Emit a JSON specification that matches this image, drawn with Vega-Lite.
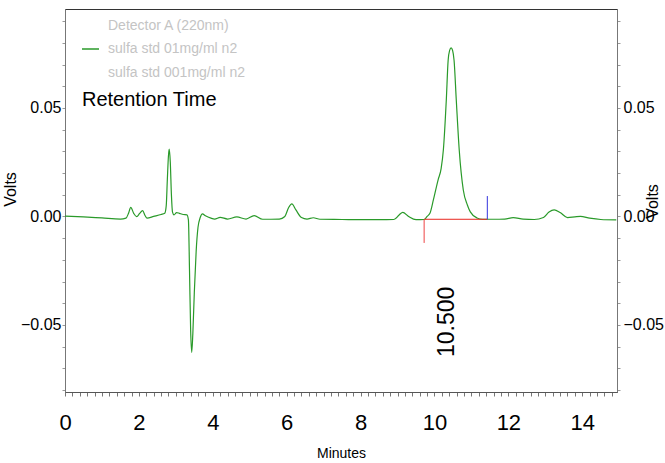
{
  "$schema": "https://vega.github.io/schema/vega-lite/v6.json",
  "autosize": {"type": "none"},
  "padding": {"left": 65, "top": 9, "right": 48, "bottom": 71},
  "width": 552,
  "height": 383,
  "background": "white",
  "config": {
    "view": {"stroke": "#333", "strokeWidth": 1},
    "font": "Liberation Sans",
    "axis": {"labelOverlap": false, "labelBound": false, "labelFlush": false, "grid": false},
    "axisX": {"labelOverlap": false},
    "axisY": {"labelOverlap": false}
  },
  "resolve": {"axis": {"x": "independent", "y": "independent"}},
  "datasets": {
    "trace": [
      {"t": 0, "v": 0.0002}, {"t": 0.5, "v": -0.0002}, {"t": 1.0, "v": -0.0007}, {"t": 1.5, "v": -0.0012},
      {"t": 1.65, "v": -0.0008}, {"t": 1.72, "v": 0.0015}, {"t": 1.78, "v": 0.0042}, {"t": 1.86, "v": 0.0014},
      {"t": 1.94, "v": -0.0001}, {"t": 2.02, "v": 0.0014}, {"t": 2.1, "v": 0.0027}, {"t": 2.17, "v": 0.0003},
      {"t": 2.22, "v": -0.0008}, {"t": 2.4, "v": 0}, {"t": 2.6, "v": 0.0009}, {"t": 2.7, "v": 0.0015},
      {"t": 2.74, "v": 0.005}, {"t": 2.77, "v": 0.017}, {"t": 2.8, "v": 0.028}, {"t": 2.82, "v": 0.031},
      {"t": 2.85, "v": 0.025}, {"t": 2.88, "v": 0.01}, {"t": 2.91, "v": 0.002}, {"t": 2.95, "v": 0.0007},
      {"t": 3.02, "v": 0.0018}, {"t": 3.1, "v": 0.0014}, {"t": 3.2, "v": 0.0009}, {"t": 3.3, "v": 0.0007},
      {"t": 3.34, "v": -0.0016}, {"t": 3.37, "v": -0.025}, {"t": 3.4, "v": -0.052}, {"t": 3.43, "v": -0.0627},
      {"t": 3.46, "v": -0.054}, {"t": 3.5, "v": -0.035}, {"t": 3.55, "v": -0.016}, {"t": 3.6, "v": -0.005},
      {"t": 3.66, "v": -0.0005}, {"t": 3.72, "v": 0.0012}, {"t": 3.8, "v": 0.0003}, {"t": 3.95, "v": -0.0008},
      {"t": 4.05, "v": -0.0012}, {"t": 4.2, "v": -0.0004}, {"t": 4.4, "v": -0.0012}, {"t": 4.65, "v": -0.0002},
      {"t": 4.9, "v": -0.0012}, {"t": 5.12, "v": 0.0004}, {"t": 5.35, "v": -0.0013}, {"t": 5.8, "v": -0.0012},
      {"t": 5.95, "v": 0.0}, {"t": 6.05, "v": 0.004}, {"t": 6.14, "v": 0.0058}, {"t": 6.25, "v": 0.003},
      {"t": 6.4, "v": -0.0005}, {"t": 6.55, "v": -0.0012}, {"t": 6.72, "v": -0.0006}, {"t": 6.9, "v": -0.0013},
      {"t": 7.5, "v": -0.0014}, {"t": 8.0, "v": -0.0015}, {"t": 8.5, "v": -0.0015}, {"t": 8.9, "v": -0.0014},
      {"t": 9.05, "v": 0.0008}, {"t": 9.14, "v": 0.0019}, {"t": 9.3, "v": 0.0}, {"t": 9.5, "v": -0.0015},
      {"t": 9.72, "v": -0.0014}, {"t": 9.8, "v": 0.0}, {"t": 9.88, "v": 0.0016}, {"t": 9.97, "v": 0.0076},
      {"t": 10.1, "v": 0.017}, {"t": 10.18, "v": 0.022}, {"t": 10.24, "v": 0.0306}, {"t": 10.32, "v": 0.0537},
      {"t": 10.37, "v": 0.072}, {"t": 10.41, "v": 0.0765}, {"t": 10.45, "v": 0.0777}, {"t": 10.49, "v": 0.0765},
      {"t": 10.53, "v": 0.072}, {"t": 10.59, "v": 0.0537}, {"t": 10.67, "v": 0.0306}, {"t": 10.78, "v": 0.0122},
      {"t": 10.89, "v": 0.0053}, {"t": 10.97, "v": 0.0021}, {"t": 11.15, "v": -0.0007}, {"t": 11.3, "v": -0.0013},
      {"t": 11.6, "v": -0.0013}, {"t": 11.9, "v": -0.0012}, {"t": 12.13, "v": -0.0005}, {"t": 12.4, "v": -0.0012},
      {"t": 12.7, "v": -0.0014}, {"t": 12.95, "v": -0.0005}, {"t": 13.1, "v": 0.002}, {"t": 13.24, "v": 0.003},
      {"t": 13.4, "v": 0.0018}, {"t": 13.6, "v": -0.0005}, {"t": 13.8, "v": -0.0002}, {"t": 13.95, "v": 0.0},
      {"t": 14.2, "v": -0.0008}, {"t": 14.5, "v": -0.0014}, {"t": 14.92, "v": -0.0016}
    ]
  },
  "layer": [
    {
      "data": {"name": "trace"},
      "transform": [{"calculate": "'sulfa std 01mg/ml n2'", "as": "series"}],
      "mark": {"type": "line", "strokeWidth": 1.2, "interpolate": "monotone"},
      "encoding": {
        "x": {
          "field": "t", "type": "quantitative",
          "scale": {"domain": [0, 14.94], "nice": false, "zero": false},
          "axis": {
            "orient": "bottom", "title": "Minutes", "titleFontSize": 14, "titleFontWeight": "normal", "titlePadding": 13,
            "values": [0,0.2,0.4,0.6,0.8,1,1.2,1.4,1.6,1.8,2,2.2,2.4,2.6,2.8,3,3.2,3.4,3.6,3.8,4,4.2,4.4,4.6,4.8,5,5.2,5.4,5.6,5.8,6,6.2,6.4,6.6,6.8,7,7.2,7.4,7.6,7.8,8,8.2,8.4,8.6,8.8,9,9.2,9.4,9.6,9.8,10,10.2,10.4,10.6,10.8,11,11.2,11.4,11.6,11.8,12,12.2,12.4,12.6,12.8,13,13.2,13.4,13.6,13.8,14,14.2,14.4,14.6,14.8],
            "labelExpr": "abs(datum.value - 2*round(datum.value/2)) < 0.001 ? format(datum.value, 'd') : ''",
            "labelOverlap": false, "labelFontSize": 22, "labelColor": "#000", "labelPadding": 16,
            "tickSize": 4, "tickColor": "#777", "domainColor": "#555"
          }
        },
        "y": {
          "field": "v", "type": "quantitative",
          "scale": {"domain": [-0.0809, 0.0956], "nice": false, "zero": false},
          "axis": {
            "orient": "left", "title": "Volts", "titleFontSize": 16, "titleFontWeight": "normal", "titleAngle": -90,
            "titleX": -47, "titleY": 180, "titleBaseline": "bottom", "titleColor": "#000",
            "values": [-0.08,-0.07,-0.06,-0.05,-0.04,-0.03,-0.02,-0.01,0,0.01,0.02,0.03,0.04,0.05,0.06,0.07,0.08,0.09],
            "labelExpr": "abs(datum.value) < 0.0001 ? '0.00' : (abs(abs(datum.value) - 0.05) < 0.0001 ? format(datum.value, '.2f') : '')",
            "labelOverlap": false, "labelFontSize": 16, "labelColor": "#000", "labelPadding": 1,
            "tickSize": 3, "tickColor": "#999", "domainColor": "#777"
          }
        },
        "color": {
          "field": "series", "type": "nominal",
          "scale": {
            "domain": ["Detector A (220nm)", "sulfa std 01mg/ml n2", "sulfa std 001mg/ml n2"],
            "range": ["transparent", "#2a9a2a", "transparent"]
          },
          "legend": {
            "title": null, "orient": "none", "legendX": 16, "legendY": 7, "padding": 0,
            "symbolType": "stroke", "symbolSize": 289, "symbolStrokeWidth": 1.5,
            "labelFontSize": 14, "labelColor": "#c4c4c4", "labelOffset": 8, "rowPadding": 6.5
          }
        }
      }
    },
    {
      "data": {"name": "trace"},
      "mark": {"type": "line", "opacity": 0},
      "encoding": {
        "x": {"field": "t", "type": "quantitative", "axis": null},
        "y": {
          "field": "v", "type": "quantitative",
          "axis": {
            "orient": "right", "title": "Volts", "titleFontSize": 16, "titleFontWeight": "normal", "titleAngle": -90,
            "titleX": 43, "titleY": 192, "titleBaseline": "bottom", "titleColor": "#000",
            "values": [-0.08,-0.07,-0.06,-0.05,-0.04,-0.03,-0.02,-0.01,0,0.01,0.02,0.03,0.04,0.05,0.06,0.07,0.08,0.09],
            "labelExpr": "abs(datum.value) < 0.0001 ? '0.00' : (abs(abs(datum.value) - 0.05) < 0.0001 ? format(datum.value, '.2f') : '')",
            "labelOverlap": false, "labelFontSize": 16, "labelColor": "#000", "labelPadding": 3,
            "tickSize": 3, "tickColor": "#999", "domainColor": "#777"
          }
        }
      }
    },
    {
      "data": {"values": [{"x": 9.72, "x2": 11.43, "y": -0.0013}]},
      "mark": {"type": "rule", "color": "#e8261f", "strokeWidth": 1},
      "encoding": {
        "x": {"field": "x", "type": "quantitative", "axis": null},
        "x2": {"field": "x2"},
        "y": {"field": "y", "type": "quantitative", "axis": null}
      }
    },
    {
      "data": {"values": [{"x": 9.72, "y": -0.0013, "y2": -0.0122}]},
      "mark": {"type": "rule", "color": "#ee4444", "strokeWidth": 1},
      "encoding": {
        "x": {"field": "x", "type": "quantitative", "axis": null},
        "y": {"field": "y", "type": "quantitative", "axis": null},
        "y2": {"field": "y2"}
      }
    },
    {
      "data": {"values": [{"x": 11.43, "y": -0.0013, "y2": 0.0094}]},
      "mark": {"type": "rule", "color": "#3333dd", "strokeWidth": 1},
      "encoding": {
        "x": {"field": "x", "type": "quantitative", "axis": null},
        "y": {"field": "y", "type": "quantitative", "axis": null},
        "y2": {"field": "y2"}
      }
    },
    {
      "data": {"values": [{"x": 10.52, "y": -0.0486, "label": "10.500"}]},
      "mark": {"type": "text", "angle": 270, "align": "center", "baseline": "alphabetic", "fontSize": 23, "color": "#000"},
      "encoding": {
        "x": {"field": "x", "type": "quantitative", "axis": null},
        "y": {"field": "y", "type": "quantitative", "axis": null},
        "text": {"field": "label"}
      }
    },
    {
      "data": {"values": [{"x": 0.46, "y": 0.0537, "label": "Retention Time"}]},
      "mark": {"type": "text", "align": "left", "baseline": "middle", "fontSize": 20, "color": "#000"},
      "encoding": {
        "x": {"field": "x", "type": "quantitative", "axis": null},
        "y": {"field": "y", "type": "quantitative", "axis": null},
        "text": {"field": "label"}
      }
    }
  ]
}
